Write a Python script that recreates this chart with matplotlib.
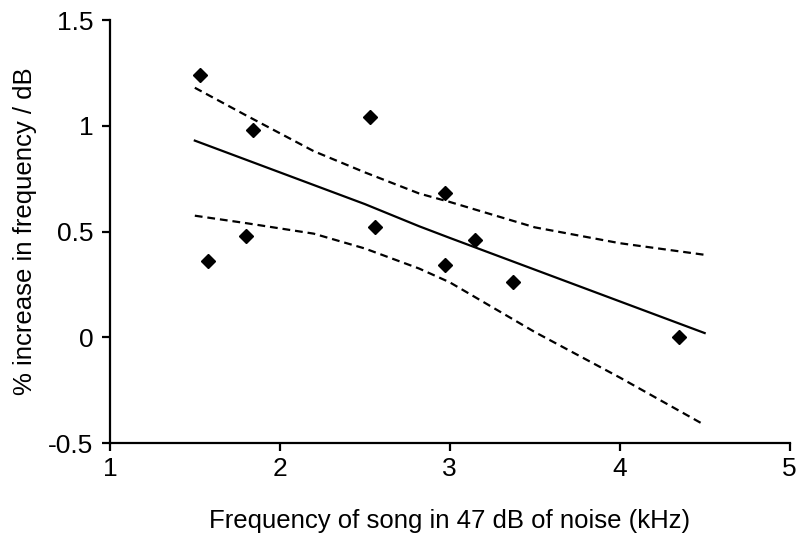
import matplotlib
matplotlib.use('Agg')
import numpy as np
from matplotlib import pyplot as plt

plt.rcParams['font.family'] = ['Liberation Sans', 'DejaVu Sans']

# song frequency (kHz) vs % increase in frequency per dB
song_khz = [1.53, 1.58, 1.84, 1.80, 2.53, 2.56, 2.97, 2.97, 3.15, 3.37, 4.35]
increase = [1.24, 0.36, 0.98, 0.48, 1.04, 0.52, 0.68, 0.34, 0.46, 0.26, 0.00]

# fitted line and confidence limits
fit_x = [1.5, 1.8, 2.2, 2.5, 2.82, 3.0, 3.5, 4.0, 4.5]
fit_y = [0.93, 0.84, 0.72, 0.63, 0.525, 0.47, 0.32, 0.17, 0.02]
upper_y = [1.18, 1.05, 0.88, 0.78, 0.68, 0.64, 0.52, 0.445, 0.39]
lower_y = [0.575, 0.54, 0.49, 0.42, 0.325, 0.26, 0.025, -0.19, -0.415]

xticks = [1, 2, 3, 4, 5]
yticks = [-0.5, 0, 0.5, 1, 1.5]
ytick_labels = ['-0.5', '0', '0.5', '1', '1.5']

fig = plt.figure(figsize=(7.96, 5.5), dpi=100)
ax = fig.add_axes([0.138, 0.1945, 0.854, 0.769])

ax.plot(fit_x, fit_y, color='black', lw=1.6)
ax.plot(fit_x, upper_y, color='black', lw=1.6, ls=(0, (3.5, 2.2)))
ax.plot(fit_x, lower_y, color='black', lw=1.6, ls=(0, (3.5, 2.2)))
ax.plot(song_khz, increase, 'D', color='black', ms=7.5, clip_on=False)

ax.set_xlim(1, 5)
ax.set_ylim(-0.5, 1.5)
ax.set_xticks(xticks)
ax.set_yticks(yticks)
ax.set_yticklabels(ytick_labels)

for side in ['top', 'right']:
    ax.spines[side].set_visible(False)
for side in ['left', 'bottom']:
    ax.spines[side].set_linewidth(1.6)

ax.tick_params(direction='out', length=6, width=1.6, labelsize=19)
ax.tick_params(axis='x', pad=4)
ax.tick_params(axis='y', pad=6)
ax.set_xlabel('Frequency of song in 47 dB of noise (kHz)', fontsize=18.5, labelpad=20)
ax.set_ylabel('% increase in frequency / dB', fontsize=18.5, labelpad=8)

fig.savefig('out.png', dpi=100)
